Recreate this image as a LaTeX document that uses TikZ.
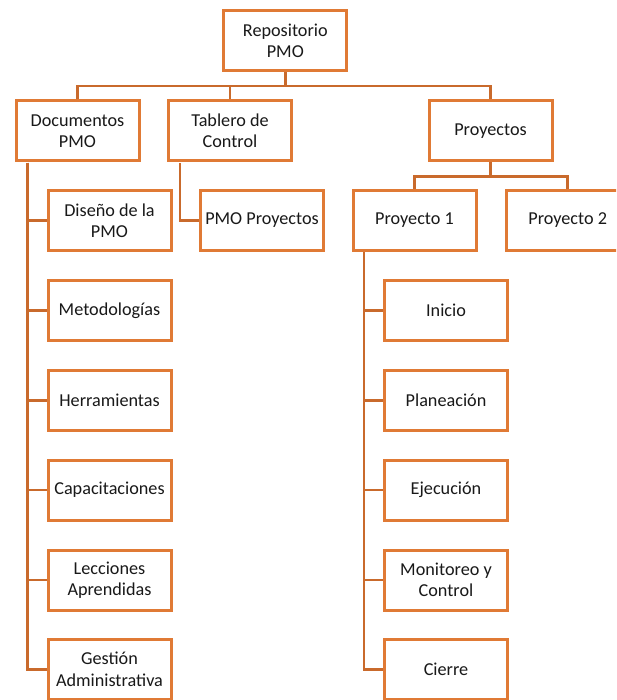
\documentclass[tikz,border=0pt]{standalone}
\usepackage{fontspec}
\setmainfont{Carlito}
\definecolor{boxc}{HTML}{E07A35}
\definecolor{linec}{HTML}{C96A2C}
\begin{document}
\begin{tikzpicture}[x=1pt,y=-1pt,
  bx/.style={draw=boxc,line width=3pt,fill=white,minimum width=123pt,minimum height=60pt,
    inner sep=1pt,align=center,font=\fontsize{18.2}{21.5}\selectfont,text=black!90},
  cn/.style={draw=linec,line width=2.8pt}]
\useasboundingbox (0,0) rectangle (616,700);
\clip (0,0) rectangle (616,700);
\coordinate (b1) at (285.5,86);
\coordinate (b2) at (490.5,176.7);
\coordinate (sd) at (27.7,163);
\coordinate (st) at (180,163);
\coordinate (sp) at (364,252.5);
% boxes
\node[bx] (root) at (285.3,41) {Repositorio\\PMO};
\node[bx] (doc) at (77.5,131) {Documentos\\PMO};
\node[bx] (tab) at (230,131) {Tablero de\\Control};
\node[bx] (proj) at (490.5,131) {Proyectos};
\node[bx] (dis) at (109.5,220.5) {Diseño de la\\PMO};
\node[bx] (pmop) at (262,220.5) {PMO Proyectos};
\node[bx] (p1) at (414.5,220.5) {Proyecto 1};
\node[bx] (p2) at (567.7,220.5) {Proyecto 2};
\node[bx] (met) at (109.5,310.5) {Metodologías};
\node[bx] (her) at (109.5,400.5) {Herramientas};
\node[bx] (cap) at (109.5,490) {Capacitaciones};
\node[bx] (lec) at (109.5,580) {Lecciones\\Aprendidas};
\node[bx] (ges) at (109.5,669.5) {Gestión\\Administrativa};
\node[bx] (ini) at (446,310.5) {Inicio};
\node[bx] (pla) at (446,400.5) {Planeación};
\node[bx] (eje) at (446,490) {Ejecución};
\node[bx] (mon) at (446,580) {Monitoreo y\\Control};
\node[bx] (cie) at (446,669.5) {Cierre};
% level 1
\draw[cn] (root.south) -- (root.south |- b1);
\draw[cn] (doc.north) |- (b1) -| (proj.north);
\draw[cn] (tab.north) -- (tab.north |- b1);
% proyectos
\draw[cn] (proj.south) -- (proj.south |- b2);
\draw[cn] (p1.north) |- (b2) -| (p2.north);
% documentos children
\foreach \n in {dis,met,her,cap,lec,ges} \draw[cn] (sd) |- (\n.west);
% tablero child
\draw[cn] (st) |- (pmop.west);
% proyecto 1 children
\foreach \n in {ini,pla,eje,mon,cie} \draw[cn] (sp) |- (\n.west);
\end{tikzpicture}
\end{document}
